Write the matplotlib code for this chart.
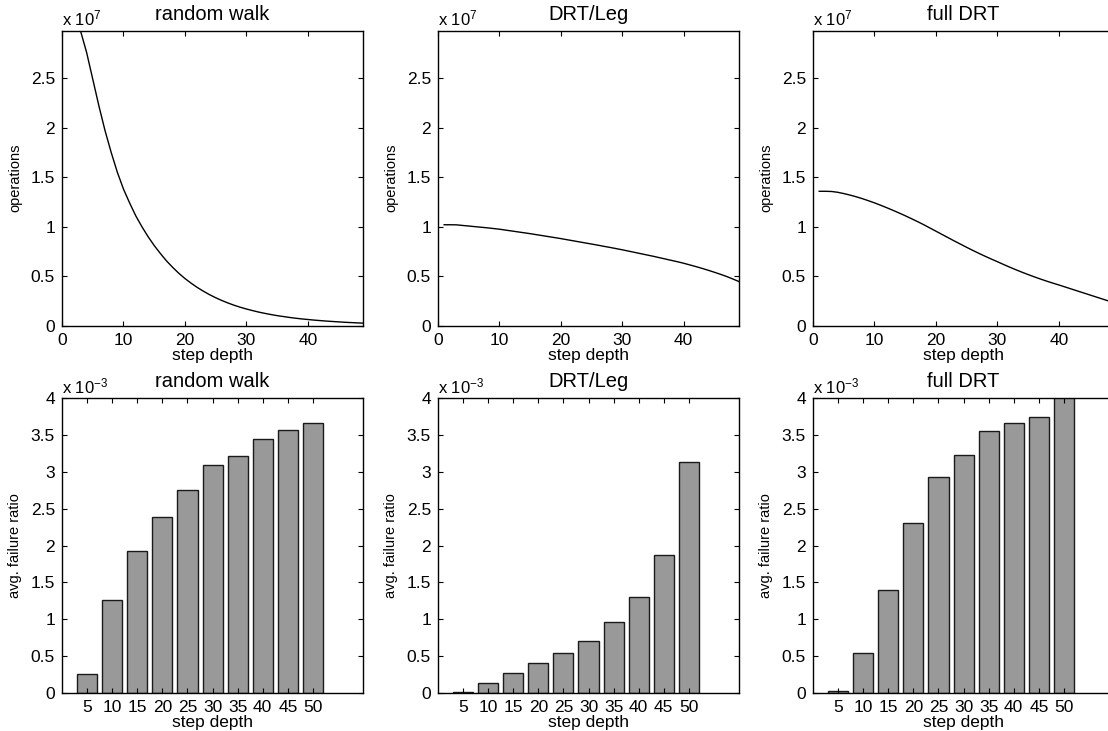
"""Operations and failure ratio vs. step depth for three search strategies."""

import matplotlib

matplotlib.use("Agg")

import matplotlib.pyplot as plt
import numpy as np
from matplotlib.ticker import FuncFormatter

plt.rcParams.update(
    {
        "font.family": ["Liberation Sans", "DejaVu Sans"],
        "mathtext.default": "regular",
        "axes.linewidth": 1.0,
        "xtick.direction": "in",
        "ytick.direction": "in",
        "xtick.major.size": 3.5,
        "ytick.major.size": 3.5,
        "xtick.major.width": 0.8,
        "ytick.major.width": 0.8,
        "xtick.top": True,
        "ytick.right": True,
        "xtick.labelsize": 12.5,
        "ytick.labelsize": 12.5,
        "xtick.major.pad": 5,
        "ytick.major.pad": 5,
    }
)

# ---------------------------------------------------------------------------
# Data
# ---------------------------------------------------------------------------
titles = ["random walk", "DRT/Leg", "full DRT"]

# top row: operations (in units of 1e7) for step depth 1..49
step = list(range(1, 50))
ops_random_walk = [
    3.40, 3.20, 2.98, 2.76, 2.49, 2.22, 1.97, 1.75, 1.55, 1.38,
    1.24, 1.11, 1.00, 0.90, 0.81, 0.73, 0.655, 0.59, 0.53, 0.477,
    0.430, 0.387, 0.349, 0.314, 0.283, 0.255, 0.230, 0.207, 0.187, 0.169,
    0.153, 0.138, 0.125, 0.113, 0.102, 0.093, 0.084, 0.076, 0.069, 0.063,
    0.057, 0.052, 0.047, 0.043, 0.039, 0.035, 0.032, 0.029, 0.026,
]
ops_drt_leg = [
    1.020, 1.020, 1.019, 1.013, 1.007, 1.001, 0.995, 0.989, 0.982, 0.975,
    0.966, 0.957, 0.948, 0.939, 0.930, 0.920, 0.910, 0.900, 0.890, 0.880,
    0.869, 0.858, 0.847, 0.836, 0.825, 0.814, 0.802, 0.791, 0.779, 0.767,
    0.754, 0.741, 0.728, 0.715, 0.702, 0.688, 0.674, 0.660, 0.646, 0.631,
    0.614, 0.597, 0.579, 0.560, 0.540, 0.519, 0.497, 0.472, 0.446,
]
ops_full_drt = [
    1.358, 1.358, 1.356, 1.348, 1.335, 1.320, 1.303, 1.284, 1.263, 1.241,
    1.217, 1.192, 1.166, 1.139, 1.111, 1.082, 1.052, 1.021, 0.988, 0.955,
    0.922, 0.889, 0.856, 0.824, 0.792, 0.761, 0.731, 0.702, 0.674, 0.647,
    0.619, 0.592, 0.566, 0.541, 0.517, 0.494, 0.472, 0.451, 0.431, 0.412,
    0.392, 0.372, 0.352, 0.332, 0.312, 0.292, 0.272, 0.252, 0.233,
]

# bottom row: avg. failure ratio (in units of 1e-3)
depth_labels = ["5", "10", "15", "20", "25", "30", "35", "40", "45", "50"]
fail_random_walk = [0.25, 1.26, 1.93, 2.39, 2.76, 3.10, 3.21, 3.45, 3.565, 3.66]
fail_drt_leg = [0.014, 0.136, 0.272, 0.40, 0.535, 0.70, 0.956, 1.296, 1.87, 3.13]
fail_full_drt = [0.027, 0.54, 1.40, 2.30, 2.93, 3.225, 3.56, 3.67, 3.74, 4.05]

ops_series = [ops_random_walk, ops_drt_leg, ops_full_drt]
fail_series = [fail_random_walk, fail_drt_leg, fail_full_drt]

# ---------------------------------------------------------------------------
# Layout
# ---------------------------------------------------------------------------
fig = plt.figure(figsize=(11.08, 7.31), dpi=100)

lefts = [0.056, 0.3953, 0.7338]
width = 0.2717
top_bottom, top_height = 0.5544, 0.4036
bot_bottom, bot_height = 0.0524, 0.4027

fmt = FuncFormatter(lambda v, _: f"{v:g}")

for col in range(3):
    # --- operations curve
    ax = fig.add_axes([lefts[col], top_bottom, width, top_height])
    ax.plot(step, ops_series[col], color="black", linewidth=1.0)
    ax.set_xlim(0, 49)
    ax.set_ylim(0, 2.98)
    ax.set_xticks(np.arange(0, 41, 10))
    ax.set_yticks(np.arange(0, 2.51, 0.5))
    ax.yaxis.set_major_formatter(fmt)
    ax.set_title(titles[col], fontsize=14.5, pad=8)
    ax.set_xlabel("step depth", fontsize=12.5, labelpad=0)
    ax.set_ylabel("operations", fontsize=10.5, labelpad=6)
    ax.text(0, 1.008, r"x 10$^{7}$", transform=ax.transAxes,
            ha="left", va="bottom", fontsize=12)

    # --- failure ratio bars
    ax = fig.add_axes([lefts[col], bot_bottom, width, bot_height])
    x_pos = np.arange(1, len(depth_labels) + 1)
    ax.bar(x_pos, fail_series[col], width=0.8, color="#999999",
           edgecolor="#1a1a1a", linewidth=1.0)
    ax.set_xlim(0, 12)
    ax.set_ylim(0, 4)
    ax.set_xticks(x_pos)
    ax.set_xticklabels(depth_labels)
    ax.set_yticks(np.arange(0, 4.01, 0.5))
    ax.yaxis.set_major_formatter(fmt)
    ax.set_title(titles[col], fontsize=14.5, pad=8)
    ax.set_xlabel("step depth", fontsize=12.5, labelpad=0)
    ax.set_ylabel("avg. failure ratio", fontsize=10.5, labelpad=6)
    ax.text(0, 1.008, r"x 10$^{-3}$", transform=ax.transAxes,
            ha="left", va="bottom", fontsize=12)

fig.savefig("out.png", dpi=100)
plt.close(fig)
